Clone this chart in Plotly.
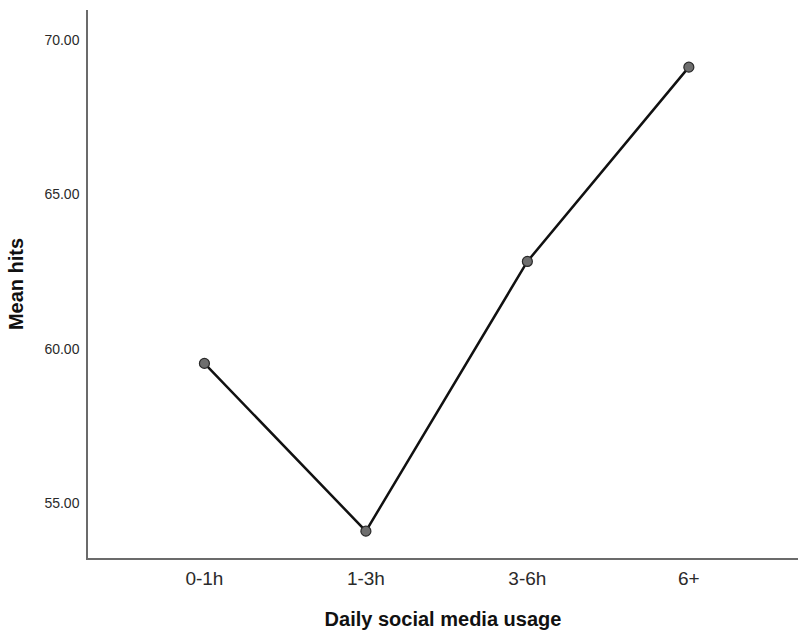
import plotly.graph_objects as go

categories = ["0-1h", "1-3h", "3-6h", "6+"]
mean_hits = [59.53, 54.10, 62.83, 69.12]
y_tick_vals = [55, 60, 65, 70]
y_tick_text = ["55.00", "60.00", "65.00", "70.00"]

fig = go.Figure()
fig.add_trace(go.Scatter(
    x=list(range(len(categories))),
    y=mean_hits,
    mode="lines+markers",
    line=dict(color="#111111", width=2.5),
    marker=dict(size=10, color="#6e6e6e", line=dict(color="#2a2a2a", width=1.2)),
    showlegend=False,
))

fig.update_layout(
    width=798, height=630,
    margin=dict(l=88, r=0, t=10, b=72, autoexpand=False),
    paper_bgcolor="white", plot_bgcolor="white",
    font=dict(family="Arial, Liberation Sans, sans-serif", color="#222222"),
)
fig.update_xaxes(
    range=[-0.721, 3.676],
    tickmode="array",
    tickvals=list(range(len(categories))),
    ticktext=categories,
    tickfont=dict(size=19, color="#2a2a2a"),
    ticks="outside", ticklen=2, tickcolor="rgba(0,0,0,0)",
    showline=True, linecolor="#6b6b6b", linewidth=1.5,
    showgrid=False, zeroline=False, automargin=False,
    title=dict(text="<b>Daily social media usage</b>", font=dict(size=20, color="#111111"), standoff=24),
)
fig.update_yaxes(
    range=[53.23, 70.97],
    tickmode="array",
    tickvals=y_tick_vals,
    ticktext=y_tick_text,
    tickfont=dict(size=14, color="#2a2a2a"),
    ticks="outside", ticklen=4, tickcolor="rgba(0,0,0,0)",
    showline=True, linecolor="#6b6b6b", linewidth=1.5,
    showgrid=False, zeroline=False, automargin=False,
    title=dict(text="<b>Mean hits</b>", font=dict(size=20, color="#111111")),
)

fig.write_html(
    "out.html",
    config={"displayModeBar": False},
    post_script="document.body.style.margin='0';document.body.style.overflow='hidden';",
)
